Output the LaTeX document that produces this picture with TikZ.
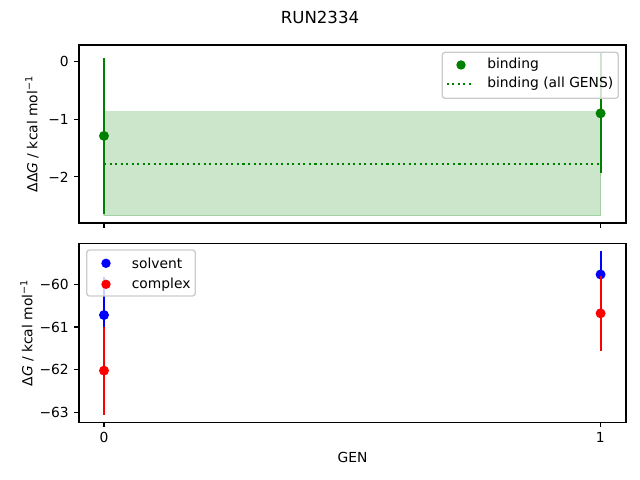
\documentclass[tikz,border=0pt]{standalone}
\usepackage{fontspec}
\setmainfont{DejaVu Sans}
\usetikzlibrary{positioning}
\definecolor{mplgreen}{RGB}{0,128,0}
\definecolor{legendedge}{gray}{0.8}
\tikzset{
    axisframe/.style={draw=black, line width=0.8pt},
    tickmark/.style={draw=black, line width=0.8pt},
    ticklabel/.style={font=\fontsize{10}{12}\selectfont, inner sep=0pt},
    errbar/.style={line width=1.5pt},
    datapoint/.style={circle, fill, inner sep=0pt, minimum size=7.2pt},
    band/.style={fill=mplgreen, fill opacity=0.2, draw=mplgreen, draw opacity=0.2, line width=1pt},
    meanline/.style={draw=mplgreen, line width=1.5pt, dash pattern=on 1.5pt off 2.5pt},
    legendbox/.style={draw=legendedge, fill=white, fill opacity=0.8, rounded corners=2pt, line width=1pt},
    legendtext/.style={font=\fontsize{10}{12}\selectfont, anchor=west, inner sep=0pt},
}

\begin{document}
\begin{tikzpicture}[x=0.01in, y=-0.01in, line width=0.8pt]
	\useasboundingbox (0,0) rectangle (640,480);
	\node[font=\fontsize{12}{14}\selectfont] (title) at (320,17) {RUN2334};

	% top panel: binding
	\begin{scope}[shift={(104,61.3)}, x=4.963in, y=0.578in]
		\draw[band] (0,-0.87) rectangle (1,-2.67);
		\draw[meanline] (0,-1.77) -- (1,-1.77);
		\draw[errbar, mplgreen] (0,-2.64) -- (0,0.06);
		\node[datapoint, fill=mplgreen] (bind0) at (0,-1.29) {};
		\draw[errbar, mplgreen] (1,-1.94) -- (1,0.14);
		\node[datapoint, fill=mplgreen] (bind1) at (1,-0.90) {};
	\end{scope}
	\draw[axisframe] (79,45) rectangle (626,223);
	\foreach \v/\py in {0/61.3, −1/119.1, −2/176.9}
		\draw[tickmark] (79,\py) -- ++(-4.86,0) node[left=3.5pt, ticklabel] {\v};
	\foreach \px in {104, 600.3}
		\draw[tickmark] (\px,223) -- ++(0,4.86);
	\node[rotate=90, font=\fontsize{10}{12}\selectfont] (ylabtop) at (32,134) {ΔΔ\textit{G} / kcal mol\textsuperscript{−1}};
	\draw[legendbox] (442.3,52.3) rectangle (618.3,98.3);
	\node[datapoint, fill=mplgreen, minimum size=6.8pt] (legbind) at (461,65) {};
	\node[legendtext] (legbindtxt) at (486.7,65) {binding};
	\coordinate (legmeanA) at (446.7,84);
	\coordinate (legmeanB) at (474.3,84);
	\draw[meanline] (legmeanA) -- (legmeanB);
	\node[legendtext] (legmeantxt) at (486.7,84) {binding (all GENS)};

	% bottom panel: solvent and complex
	\begin{scope}[shift={(104,284.3)}, x=4.963in, y=0.427in]
		\draw[errbar, blue] (0,-1.60) -- (0,0.16);
		\node[datapoint, fill=blue] (solv0) at (0,-0.72) {};
		\draw[errbar, blue] (1,-0.32) -- (1,0.78);
		\node[datapoint, fill=blue] (solv1) at (1,0.23) {};
		\draw[errbar, red] (0,-3.05) -- (0,-0.99);
		\node[datapoint, fill=red] (comp0) at (0,-2.02) {};
		\draw[errbar, red] (1,-1.56) -- (1,0.20);
		\node[datapoint, fill=red] (comp1) at (1,-0.68) {};
	\end{scope}
	\draw[axisframe] (79,243.3) rectangle (626,422.3);
	\foreach \v/\py in {−60/284.3, −61/327, −62/369.7, −63/412.4}
		\draw[tickmark] (79,\py) -- ++(-4.86,0) node[left=3.5pt, ticklabel] {\v};
	\foreach \v/\px in {0/104, 1/600.3}
		\draw[tickmark] (\px,422.3) -- ++(0,4.86) node[below=3.5pt, ticklabel] {\v};
	\node[rotate=90, font=\fontsize{10}{12}\selectfont] (ylabbot) at (27,333) {Δ\textit{G} / kcal mol\textsuperscript{−1}};
	\node[font=\fontsize{10}{12}\selectfont] (xlab) at (352.5,457) {GEN};
	\draw[legendbox] (86.7,250) rectangle (195.3,296);
	\node[datapoint, fill=blue, minimum size=6.8pt] (legsolv) at (106,263.3) {};
	\node[legendtext] (legsolvtxt) at (131.3,263.3) {solvent};
	\node[datapoint, fill=red, minimum size=6.8pt] (legcomp) at (106,284.3) {};
	\node[legendtext] (legcomptxt) at (131.3,284.3) {complex};
\end{tikzpicture}
\end{document}
